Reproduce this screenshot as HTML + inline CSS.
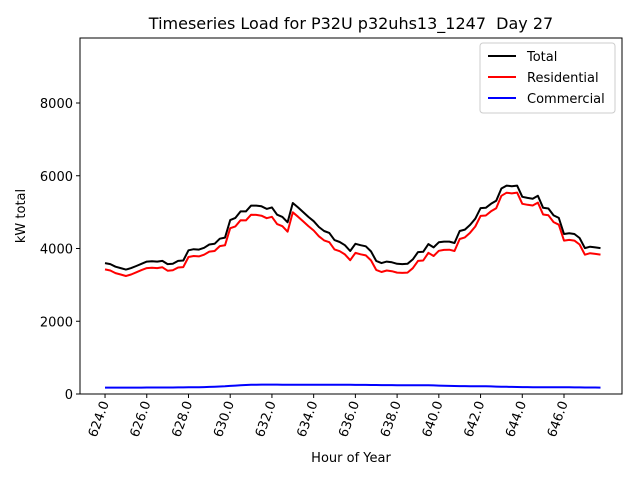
<!DOCTYPE html>
<html><head><meta charset="utf-8"><style>
body{margin:0;background:#fff;font-family:"DejaVu Sans","Liberation Sans",sans-serif;}
svg text{font-family:"DejaVu Sans","Liberation Sans",sans-serif;}
</style></head><body>
<svg id="chart" width="640" height="480" xmlns="http://www.w3.org/2000/svg">
<rect width="640" height="480" fill="#fff"/>
<text x="351" y="29" font-size="16" text-anchor="middle" xml:space="preserve">Timeseries Load for P32U p32uhs13_1247  Day 27</text>
<g id="plot"></g>
<rect x="80" y="38" width="542" height="356" fill="none" stroke="#000" stroke-width="1"/>
<text x="351" y="462" font-size="13" text-anchor="middle">Hour of Year</text>
<text transform="translate(25,216) rotate(-90)" font-size="13" text-anchor="middle">kW total</text>
<g>
<rect x="480" y="43" width="135" height="70" fill="#fff" stroke="#ccc" rx="3"/>
<line x1="488" y1="56" x2="516" y2="56" stroke="#000" stroke-width="2"/>
<text x="527" y="61" font-size="13">Total</text>
<line x1="488" y1="77" x2="516" y2="77" stroke="#f00" stroke-width="2"/>
<text x="527" y="82" font-size="13">Residential</text>
<line x1="488" y1="98" x2="516" y2="98" stroke="#00f" stroke-width="2"/>
<text x="527" y="103" font-size="13">Commercial</text>
</g>
</svg>
<script>
const startHour = 624, stepHour = 0.25;
const xTicks = [624,626,628,630,632,634,636,638,640,642,644,646];
const yTicks = [0,2000,4000,6000,8000];
const total = [3600,3570,3500,3460,3420,3460,3520,3580,3640,3650,3640,3660,3570,3580,3660,3670,
3950,3980,3970,4020,4110,4130,4270,4300,4780,4840,5020,5020,5180,5180,5160,5090,
5130,4930,4870,4720,5250,5130,5000,4870,4750,4590,4480,4430,4230,4180,4090,3930,
4130,4090,4060,3920,3660,3600,3640,3620,3580,3570,3580,3700,3900,3910,4120,4030,
4170,4190,4190,4150,4480,4520,4650,4820,5110,5120,5230,5310,5650,5730,5710,5730,
5420,5390,5370,5450,5120,5100,4910,4840,4400,4420,4400,4290,4010,4050,4030,4010];
const residential = [3425,3395,3325,3285,3245,3285,3345,3405,3462,3472,3462,3482,3390,3400,3478,3488,
3765,3795,3782,3830,3915,3930,4065,4088,4558,4608,4778,4772,4928,4925,4902,4832,
4872,4672,4613,4463,4994,4874,4744,4615,4495,4335,4224,4174,3975,3926,3837,3678,
3879,3840,3811,3672,3413,3354,3395,3376,3337,3328,3338,3459,3660,3670,3882,3794,
3938,3962,3966,3930,4262,4304,4435,4605,4896,4908,5022,5106,5450,5533,5516,5538,
5230,5201,5182,5263,4934,4914,4725,4655,4216,4237,4218,4109,3830,3871,3852,3833];
const commercial = [175,175,175,175,175,175,175,175,178,178,178,178,180,180,182,182,
185,185,188,190,195,200,205,212,222,232,242,248,252,255,258,258,
258,258,257,257,256,256,256,255,255,255,256,256,255,254,253,252,
251,250,249,248,247,246,245,244,243,242,242,241,240,240,238,236,
232,228,224,220,218,216,215,215,214,212,208,204,200,197,194,192,
190,189,188,187,186,186,185,185,184,183,182,181,180,179,178,177];

const L=80,R=622,T=38,B=394;
const xMin=622.8,xMax=648.78,yMin=0,yMax=9787;
const xs=v=>L+(v-xMin)/(xMax-xMin)*(R-L);
const ys=v=>B-(v-yMin)/(yMax-yMin)*(B-T);
const NS="http://www.w3.org/2000/svg";
const plot=document.getElementById('plot');
function mk(tag,attrs){const e=document.createElementNS(NS,tag);for(const k in attrs)e.setAttribute(k,attrs[k]);return e;}

xTicks.forEach(t=>{
  const x=xs(t);
  const tk=mk('line',{x1:x,y1:B,x2:x,y2:B+4,stroke:'#000'});
  
  
  plot.appendChild(tk);
  const lb=mk('text',{transform:`translate(${x+4},${B+9}) rotate(-70)`,'font-size':13,'text-anchor':'end'});
  
  
  lb.textContent=t.toFixed(1);
  plot.appendChild(lb);
});
yTicks.forEach(t=>{
  const y=ys(t);
  const tk=mk('line',{x1:L-4,y1:y,x2:L,y2:y,stroke:'#000'});
  
  
  plot.appendChild(tk);
  const lb=mk('text',{x:L-7,y:y+5,'font-size':13,'text-anchor':'end'});
  
  
  lb.textContent=t;
  plot.appendChild(lb);
});
function line(arr,color,name){
  const pts=arr.map((v,i)=>xs(startHour+i*stepHour).toFixed(1)+','+ys(v).toFixed(1)).join(' ');
  const p=mk('polyline',{points:pts,fill:'none',stroke:color,'stroke-width':2,'stroke-linejoin':'round'});
  
  
  plot.appendChild(p);
}
line(commercial,'#0000ff','commercial-line');
line(residential,'#ff0000','residential-line');
line(total,'#000000','total-line');
</script>
</body></html>
